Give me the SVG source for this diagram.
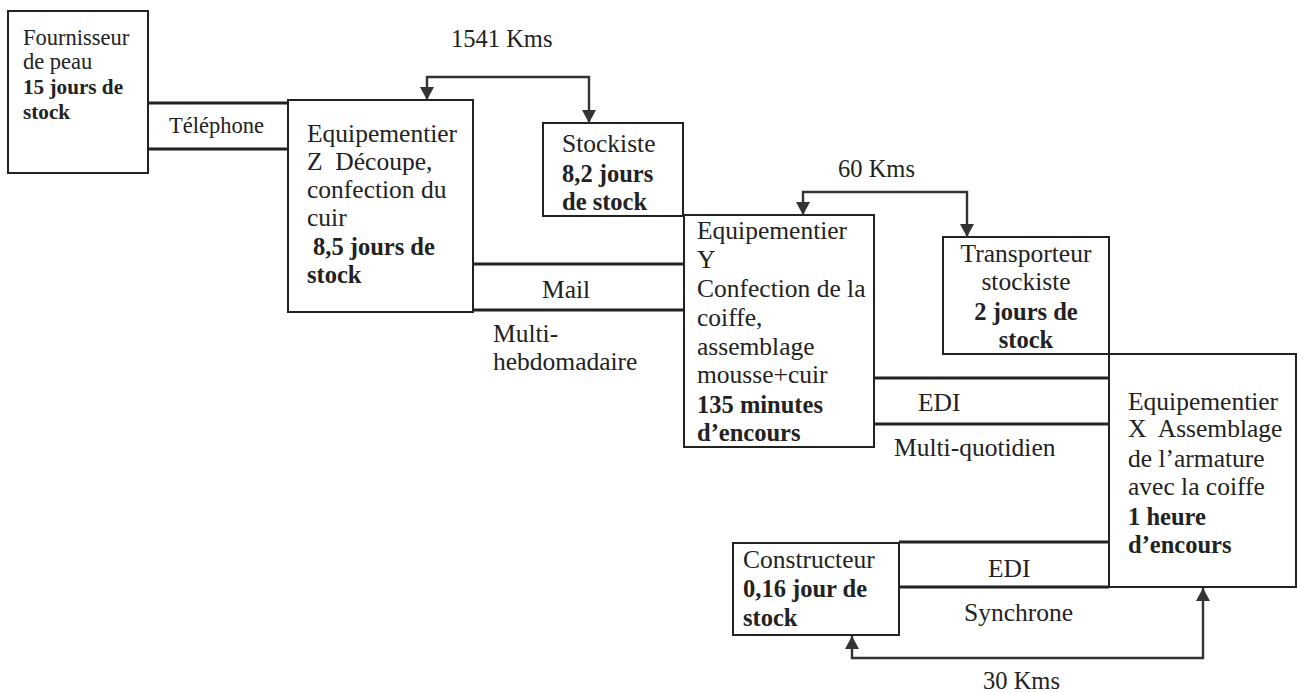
<svg xmlns="http://www.w3.org/2000/svg" width="1297" height="692" viewBox="0 0 1297 692">
<defs>
<style>
text{font-family:"Liberation Serif","Times New Roman",serif;fill:#222;font-size:25.5px}
.b{font-weight:bold;font-size:24.5px}
.s{font-size:22.5px}
.sb{font-weight:bold;font-size:21.2px}
.k{font-size:24.5px}
.box{fill:#fff;stroke:#222;stroke-width:2}
.band{fill:none;stroke:#222;stroke-width:3.2}
.arr{fill:none;stroke:#333;stroke-width:2.4;marker-start:url(#ah);marker-end:url(#ah)}
</style>
<marker id="ah" viewBox="0 0 13 14" markerWidth="13" markerHeight="14" markerUnits="userSpaceOnUse" refX="13" refY="7" orient="auto-start-reverse">
<path d="M0,0 L13,7 L0,14 z" fill="#333"/>
</marker>
</defs>
<rect width="1297" height="692" fill="#fff"/>

<g id="fournisseur">
<rect class="box" x="8" y="11" width="140" height="162"/>
<text class="s" x="23" y="45">Fournisseur</text>
<text class="s" x="23" y="69">de peau</text>
<text class="sb" x="23" y="94">15 jours de</text>
<text class="sb" x="23" y="119">stock</text>
</g>

<g id="equipementier-z">
<rect class="box" x="288" y="100" width="185" height="212"/>
<text x="307" y="142">Equipementier</text>
<text x="307" y="170" xml:space="preserve">Z  Découpe,</text>
<text x="307" y="198">confection du</text>
<text x="307" y="226">cuir</text>
<text class="b" x="313" y="255">8,5 jours de</text>
<text class="b" x="307" y="283">stock</text>
</g>

<g id="stockiste">
<rect class="box" x="543" y="123" width="140" height="93"/>
<text x="562" y="152">Stockiste</text>
<text class="b" x="562" y="182">8,2 jours</text>
<text class="b" x="562" y="210">de stock</text>
</g>

<g id="equipementier-y">
<rect class="box" x="684" y="215" width="190" height="232"/>
<text x="697" y="239">Equipementier</text>
<text x="697" y="268">Y</text>
<text x="697" y="297">Confection de la</text>
<text x="697" y="326">coiffe,</text>
<text x="697" y="355">assemblage</text>
<text x="697" y="383">mousse+cuir</text>
<text class="b" x="697" y="413">135 minutes</text>
<text class="b" x="697" y="441">d’encours</text>
</g>

<g id="transporteur">
<rect class="box" x="943" y="237" width="166" height="117"/>
<text x="1026" y="262" text-anchor="middle">Transporteur</text>
<text x="1026" y="290" text-anchor="middle">stockiste</text>
<text class="b" x="1026" y="320" text-anchor="middle">2 jours de</text>
<text class="b" x="1026" y="348" text-anchor="middle">stock</text>
</g>

<g id="equipementier-x">
<rect class="box" x="1109" y="354" width="187" height="233"/>
<text x="1128" y="410">Equipementier</text>
<text x="1128" y="437" xml:space="preserve">X  Assemblage</text>
<text x="1128" y="467">de l’armature</text>
<text x="1128" y="495">avec la coiffe</text>
<text class="b" x="1128" y="525">1 heure</text>
<text class="b" x="1128" y="553">d’encours</text>
</g>

<g id="constructeur">
<rect class="box" x="733" y="543" width="166" height="92"/>
<text x="743" y="568">Constructeur</text>
<text class="b" x="743" y="597">0,16 jour de</text>
<text class="b" x="743" y="626">stock</text>
</g>

<g id="connectors">
<path class="band" d="M148,103 H288 M148,149 H288"/>
<text class="s" x="169" y="133">Téléphone</text>

<path class="band" d="M473,264 H684 M473,310 H684"/>
<text x="542" y="298">Mail</text>
<text x="493" y="342">Multi-</text>
<text x="493" y="370">hebdomadaire</text>

<path class="band" d="M874,378 H1109 M874,424 H1109"/>
<text x="918" y="411">EDI</text>
<text x="894" y="456">Multi-quotidien</text>

<path class="band" d="M899,542 H1109 M899,587 H1109"/>
<text x="988" y="577">EDI</text>
<text x="964" y="621">Synchrone</text>

<path class="arr" d="M427,100 V77 H589 V123"/>
<text class="k" x="451" y="47">1541 Kms</text>

<path class="arr" d="M803,215 V192 H967 V237"/>
<text class="k" x="838" y="177">60 Kms</text>

<path class="arr" d="M852,636 V658 H1203 V588"/>
<text class="k" x="983" y="689">30 Kms</text>
</g>
</svg>
